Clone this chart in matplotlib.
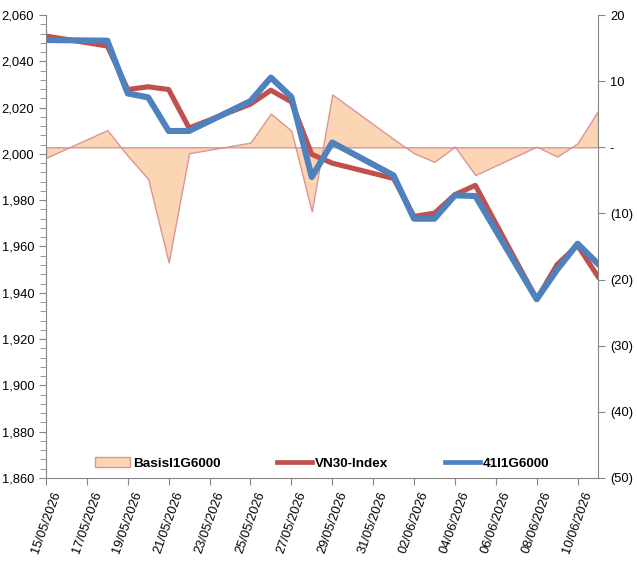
import matplotlib
matplotlib.use('Agg')
import matplotlib.pyplot as plt
import matplotlib.dates as mdates
from matplotlib.patches import Patch
from matplotlib.lines import Line2D
from matplotlib.ticker import MultipleLocator, FuncFormatter
import pandas as pd

plt.rcParams['font.family'] = ['Liberation Sans', 'DejaVu Sans']

# trading days
dates = ['2026-05-15', '2026-05-18', '2026-05-19', '2026-05-20', '2026-05-21',
         '2026-05-22', '2026-05-25', '2026-05-26', '2026-05-27', '2026-05-28',
         '2026-05-29', '2026-06-01', '2026-06-02', '2026-06-03', '2026-06-04',
         '2026-06-05', '2026-06-08', '2026-06-09', '2026-06-10', '2026-06-11']
vn30 = [2050.9, 2046.6, 2027.8, 2029.0, 2027.8, 2011.2, 2021.5, 2027.5, 2022.5,
        1999.8, 1996.0, 1989.4, 1973.0, 1974.4, 1982.4, 1986.4, 1937.2, 1952.2,
        1960.5, 1947.0]
fut = [2049.2, 2048.9, 2026.1, 2024.4, 2009.9, 2009.9, 2022.8, 2033.0, 2024.6,
       1990.0, 2004.9, 1990.7, 1972.0, 1972.0, 1982.1, 1981.8, 1937.2, 1950.0,
       1961.2, 1952.5]
basis = [-1.6, 2.6, -1.3, -4.8, -17.4, -0.9, 0.7, 5.1, 2.5, -9.7, 8.0, 1.25,
         -0.9, -2.2, 0.1, -4.2, 0.1, -1.4, 0.6, 5.5]

x = pd.to_datetime(dates)
grey = '#868686'

fig = plt.figure(figsize=(6.37, 5.62), dpi=100)
ax = fig.add_axes([0.0722, 0.1495, 0.8666, 0.8238])
ax2 = ax.twinx()
ax.set_zorder(ax2.get_zorder() + 1)
ax.patch.set_visible(False)

# basis area on right axis
ax2.fill_between(x, basis, 0, facecolor='#FCD5B5', edgecolor='#D99694', linewidth=1)
ax2.set_ylim(-50, 20)
ax2.yaxis.set_major_locator(MultipleLocator(10))
ax2.yaxis.set_major_formatter(FuncFormatter(
    lambda v, p: '-' if abs(v) < 1e-9 else ('(%d)' % abs(v) if v < 0 else '%d' % v)))

# index lines on left axis
ax.plot(x, vn30, color='#C0504D', lw=3.7, solid_joinstyle='round')
ax.plot(x, fut, color='#4F81BD', lw=4.4, solid_joinstyle='round')
ax.set_ylim(1860, 2060)
ax.yaxis.set_major_locator(MultipleLocator(20))
ax.yaxis.set_minor_locator(MultipleLocator(4))
ax.yaxis.set_major_formatter(FuncFormatter(lambda v, p: '{:,.0f}'.format(v)))

ax.set_xlim(pd.Timestamp('2026-05-15'), pd.Timestamp('2026-06-11'))
ax.set_xticks(pd.date_range('2026-05-15', '2026-06-10', freq='2D'))
ax.xaxis.set_major_formatter(mdates.DateFormatter('%d/%m/%Y'))
for lab in ax.get_xticklabels():
    lab.set_rotation(70)
    lab.set_ha('center')

for a in (ax, ax2):
    a.spines['top'].set_visible(False)
    for s in ('left', 'right', 'bottom'):
        a.spines[s].set_color(grey)
    a.tick_params(axis='both', which='both', colors=grey, labelcolor='black',
                  direction='out', labelsize=9.3)
    a.tick_params(which='major', length=5)
    a.tick_params(which='minor', length=4)
ax.spines['right'].set_visible(False)
ax2.spines['left'].set_visible(False)
ax2.spines['bottom'].set_visible(False)

handles = [Patch(facecolor='#FCD5B5', edgecolor='#D99694', label='BasisI1G6000'),
           Line2D([], [], color='#C0504D', lw=3.4, label='VN30-Index'),
           Line2D([], [], color='#4F81BD', lw=3.4, label='41I1G6000')]
ax.legend(handles=handles, loc='lower center', bbox_to_anchor=(0.5, -0.008), ncol=3,
          frameon=False, prop={'weight': 'bold', 'size': 9.7}, handlelength=2.6,
          handletextpad=0.2, columnspacing=4.2)

fig.savefig('out.png', dpi=100)
